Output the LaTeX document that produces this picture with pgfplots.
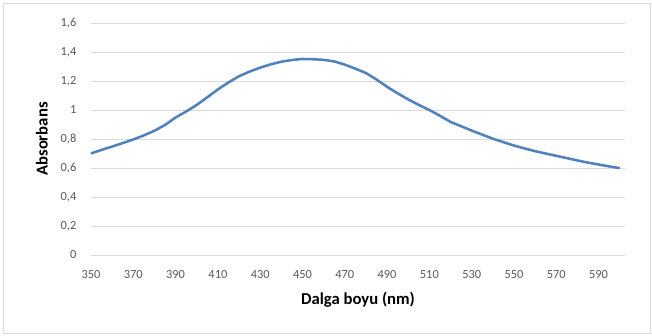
\documentclass[border=0pt]{standalone}
\usepackage{pgfplots}
\pgfplotsset{compat=1.18}
\usepackage{fontspec}
\setmainfont{Carlito}
\definecolor{lineblue}{HTML}{4F81BD}
\definecolor{gridgray}{HTML}{D9D9D9}
\definecolor{ticktext}{HTML}{595959}
\begin{document}
\begin{tikzpicture}
\path[use as bounding box] (0pt,0pt) rectangle (489pt,251.25pt);
\draw[gridgray, line width=0.6pt] (2.25pt,1.5pt) rectangle (487.5pt,249pt);
\begin{axis}[
  at={(68.25pt,60pt)}, anchor=south west,
  scale only axis, width=400.5pt, height=174pt,
  xmin=350, xmax=602.5, ymin=0, ymax=1.6,
  axis line style={draw=none},
  xtick={350,370,...,590},
  ytick={0,0.2,...,1.6},
  ymajorgrids, grid style={gridgray, line width=0.7pt},
  major tick length=0pt,
  /pgf/number format/use comma,
  /pgf/number format/assume math mode=true,
  yticklabel style={font=\fontsize{9.3}{10}\selectfont, text=ticktext, xshift=-7.5pt},
  xticklabel style={font=\fontsize{9.3}{10}\selectfont, text=ticktext, yshift=-8pt},
  xticklabel={\pgfmathprintnumber[fixed,precision=0]{\tick}},
  xlabel={\textbf{Dalga boyu (nm)}},
  ylabel={\textbf{Absorbans}},
  xlabel style={font=\fontsize{12.5}{14}\selectfont, at={(axis description cs:0.5,-0.194)}, anchor=center},
  ylabel style={font=\fontsize{12.5}{14}\selectfont, at={(axis description cs:-0.092,0.5)}, anchor=center},
  clip=false,
]
\addplot[lineblue, line width=1.9pt, line join=round] table {
x y
350 0.700
355 0.725
360 0.748
365 0.772
370 0.797
375 0.825
380 0.857
385 0.897
390 0.948
395 0.990
400 1.035
405 1.088
410 1.142
415 1.190
420 1.233
425 1.265
430 1.292
435 1.315
440 1.333
445 1.345
450 1.352
455 1.350
460 1.346
465 1.335
470 1.313
475 1.285
480 1.255
485 1.210
490 1.160
495 1.115
500 1.073
505 1.035
510 1.000
515 0.960
520 0.918
525 0.888
530 0.858
535 0.830
540 0.802
545 0.778
550 0.755
555 0.735
560 0.716
565 0.700
570 0.684
575 0.668
580 0.652
585 0.637
590 0.624
595 0.611
600 0.599
};
\end{axis}
\end{tikzpicture}
\end{document}
